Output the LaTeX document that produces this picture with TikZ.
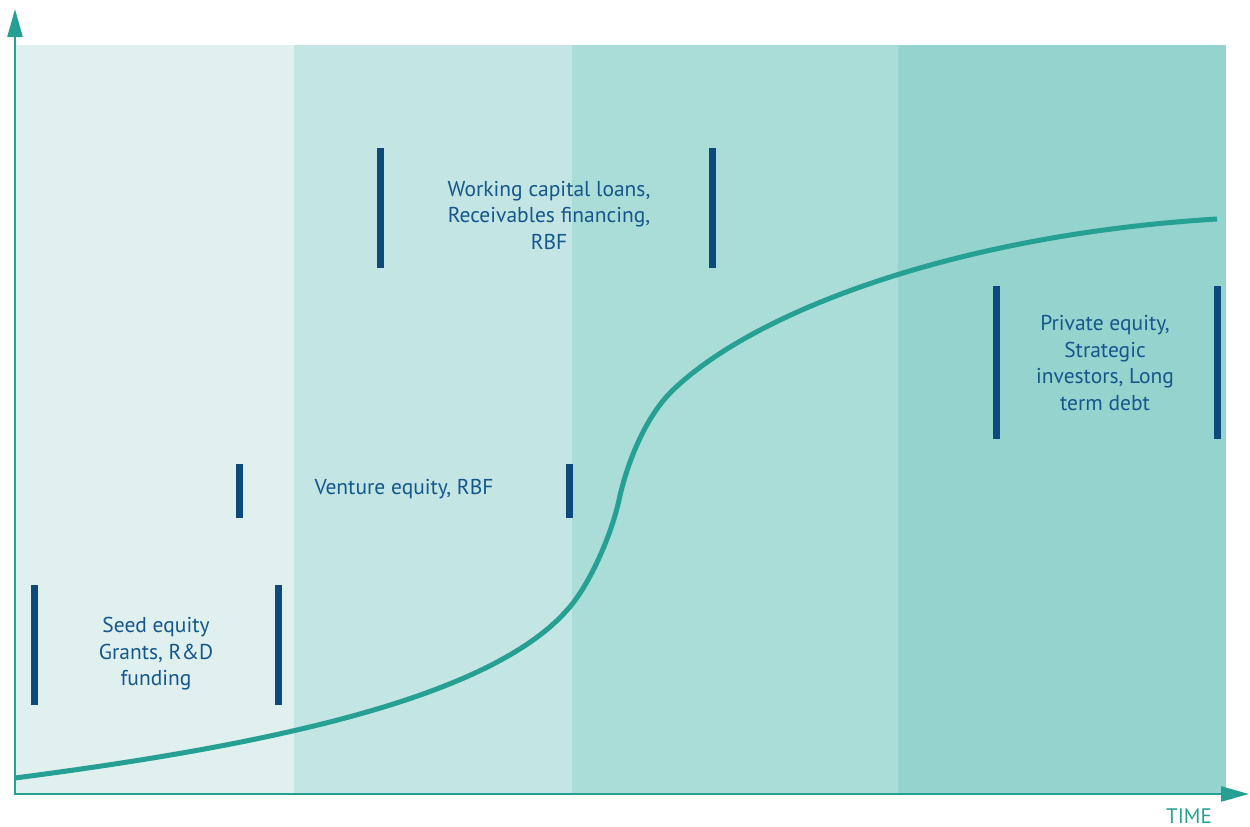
\documentclass[tikz,border=0pt]{standalone}
\usepackage{fontspec}
\setmainfont{PT Sans}
\usetikzlibrary{arrows.meta}
\definecolor{teal1}{HTML}{26A093}
\definecolor{navy}{HTML}{0B4A7B}
\definecolor{txt}{HTML}{15578A}
\definecolor{bandA}{HTML}{DFF0EF}
\definecolor{bandB}{HTML}{C3E5E3}
\definecolor{bandC}{HTML}{AADCD8}
\definecolor{bandD}{HTML}{94D3CE}
\tikzset{
  bar/.style={navy, line width=7pt},
  lbl/.style={text=txt, align=center, font=\fontsize{21.5}{26.5}\selectfont, inner sep=0pt},
  axis/.style={teal1, line width=2.5pt, -{Triangle[length=28pt,width=15pt]}},
  growth/.style={teal1, line width=5pt}
}
\begin{document}
\begin{tikzpicture}[x=1pt,y=-1pt]
\useasboundingbox (0,0) rectangle (1250,827);
% bands
\fill[bandA] (15,45) rectangle (294,794);
\fill[bandB] (294,45) rectangle (572,794);
\fill[bandC] (572,45) rectangle (898,794);
\fill[bandD] (898,45) rectangle (1226,794);
% growth curve
\coordinate (c0) at (15,778);
\coordinate (c1) at (573,603);
\coordinate (c2) at (619,500);
\coordinate (c3) at (673,390);
\coordinate (c4) at (1217,219);
\draw[growth] (c0) .. controls (265,745.5) and (499,698) .. (c1)
  .. controls (591.5,579.3) and (611.6,534.3) .. (c2)
  .. controls (626.4,465.7) and (644.2,417.6) .. (c3)
  .. controls (759.4,307.2) and (967,234) .. (c4);
% axes
\coordinate (O) at (15,795);
\coordinate (Ytip) at (15,9);
\coordinate (Xstart) at (14,794);
\coordinate (Xtip) at (1249,794);
\draw[axis] (O) -- (Ytip);
\draw[axis] (Xstart) -- (Xtip);
\node[text=teal1, font=\fontsize{21}{24}\selectfont, inner sep=0pt] (time) at (1189,816) {TIME};
% bars
\coordinate (s1a) at (34.5,585); \coordinate (s1b) at (34.5,705);
\coordinate (s2a) at (278.5,585); \coordinate (s2b) at (278.5,705);
\draw[bar] (s1a) -- (s1b); \draw[bar] (s2a) -- (s2b);
\coordinate (v1a) at (239.5,464); \coordinate (v1b) at (239.5,518);
\coordinate (v2a) at (569.5,464); \coordinate (v2b) at (569.5,518);
\draw[bar] (v1a) -- (v1b); \draw[bar] (v2a) -- (v2b);
\coordinate (w1a) at (380.5,148); \coordinate (w1b) at (380.5,268);
\coordinate (w2a) at (712.5,148); \coordinate (w2b) at (712.5,268);
\draw[bar] (w1a) -- (w1b); \draw[bar] (w2a) -- (w2b);
\coordinate (p1a) at (996.5,286); \coordinate (p1b) at (996.5,439);
\coordinate (p2a) at (1217.5,286); \coordinate (p2b) at (1217.5,439);
\draw[bar] (p1a) -- (p1b); \draw[bar] (p2a) -- (p2b);
% labels
\node[lbl] (seed) at (156,654) {Seed equity\\Grants, R\&D\\funding};
\node[lbl] (venture) at (404,489) {Venture equity, RBF};
\node[lbl] (working) at (549,215) {Working capital loans,\\Receivables financing,\\RBF};
\node[lbl] (private) at (1105,363) {Private equity,\\Strategic\\investors, Long\\term debt};
\end{tikzpicture}
\end{document}
